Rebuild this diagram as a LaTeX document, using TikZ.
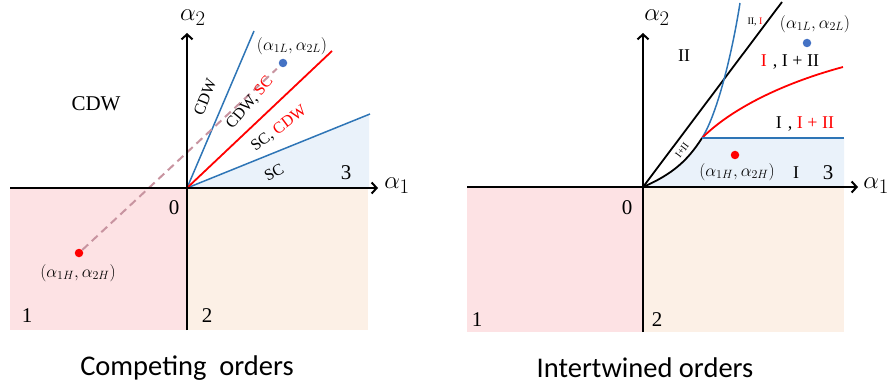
\documentclass[tikz,border=0pt]{standalone}
\usepackage{fontspec}
\setmainfont{Liberation Serif}
\newfontfamily\capfont{Carlito}
\usetikzlibrary{arrows.meta}
\definecolor{pinkf}{RGB}{253,226,228}
\definecolor{peachf}{RGB}{252,240,230}
\definecolor{bluef}{RGB}{234,242,250}
\definecolor{lineblue}{RGB}{46,117,182}
\definecolor{dotblue}{RGB}{68,114,196}
\definecolor{dashc}{RGB}{200,148,160}
\definecolor{myred}{RGB}{255,0,0}
\begin{document}
\begin{tikzpicture}[x=1pt,y=-1pt,
  axis/.style={line width=2pt,-{Straight Barb[length=5pt,width=11pt,line width=2pt]}},
  blueln/.style={lineblue,line width=1.5pt},
  redln/.style={myred,line width=1.8pt},
  blackln/.style={black,line width=1.8pt},
  dashln/.style={dashc,line width=2pt,dash pattern=on 8pt off 5pt},
  dot/.style={circle,inner sep=0pt,minimum size=8.5pt},
  axlab/.style={inner sep=0pt,font=\fontsize{30}{32}\selectfont},
  numlab/.style={inner sep=0pt,font=\fontsize{21}{23}\selectfont},
  ptlab/.style={inner sep=0pt,font=\fontsize{17}{19}\selectfont},
  phlab/.style={inner sep=0pt,font=\fontsize{16}{18}\selectfont},
  romlab/.style={inner sep=0pt,font=\fontsize{18}{20}\selectfont},
  smalllab/.style={inner sep=0pt,font=\fontsize{10}{11}\selectfont},
  caption/.style={inner sep=0pt,font=\capfont\fontsize{28.5}{30}\selectfont}
]
\useasboundingbox (0,0) rectangle (889,385);
% ================= left panel =================
\coordinate (O1) at (187,188);
\coordinate (L1l) at (10,188);
\coordinate (L1r) at (378,188);
\coordinate (L1b) at (187,330);
\coordinate (L1t) at (187,33);
\fill[pinkf] (10,188) rectangle (187,330);
\fill[peachf] (187,188) rectangle (368,330);
\fill[bluef] (O1) -- (369,114) -- (369,188) -- cycle;
\coordinate (B1a) at (254,31);
\coordinate (B1b) at (370,114);
\coordinate (R1a) at (332,51);
\draw[blueln] (O1) -- (B1a);
\draw[blueln] (O1) -- (B1b);
\draw[redln] (O1) -- (R1a);
\node[dot,fill=myred] (H1) at (79,253) {};
\node[dot,fill=dotblue] (Lo1) at (283,63) {};
\draw[dashln,shorten >=4pt] (H1) -- (Lo1);
\draw[axis] (L1l) -- (L1r);
\draw[axis] (L1b) -- (L1t);
\node[axlab] (a2l) at (193,18) {$\alpha_2$};
\node[axlab] (a1l) at (397,186) {$\alpha_1$};
\node[inner sep=0pt,font=\fontsize{21}{23}\selectfont] (cdwbig) at (96,104) {CDW};
\node[phlab,rotate=68] (ph1) at (205,97) {CDW};
\node[phlab,rotate=50] (ph2) at (250,103) {CDW, \textcolor{myred}{SC}};
\node[phlab,rotate=37] (ph3) at (279,129) {SC, \textcolor{myred}{CDW}};
\node[phlab,rotate=28] (ph4) at (274,172) {SC};
\node[ptlab] (lL1) at (292,46) {$(\alpha_{1L},\alpha_{2L})$};
\node[ptlab] (lH1) at (78,273) {$(\alpha_{1H},\alpha_{2H})$};
\node[numlab] (n3l) at (346,173) {3};
\node[numlab] (n0l) at (174,208) {0};
\node[numlab] (n1l) at (27,316) {1};
\node[numlab] (n2l) at (207,316) {2};
\node[caption] (capl) at (187,368) {Competing\ \ orders};
% ================= right panel =================
\coordinate (O2) at (643,187);
\coordinate (K) at (702,138);
\coordinate (L2l) at (467,187);
\coordinate (L2r) at (858,187);
\coordinate (L2b) at (643,332);
\coordinate (L2t) at (643,33);
\fill[pinkf] (467,187) rectangle (643,332);
\fill[peachf] (643,187) rectangle (844,332);
\fill[bluef] (O2) .. controls (673,174) and (688,160) .. (K) -- (844,138) -- (844,187) -- cycle;
\coordinate (BkT) at (782,2);
\coordinate (BcT) at (740,3);
\coordinate (Rend) at (843,67);
\coordinate (Bhend) at (844,138);
\draw[blackln] (O2) -- (BkT);
\draw[blackln] (O2) .. controls (673,174) and (688,160) .. (K);
\draw[blueln] (K) .. controls (716,116) and (731,60) .. (BcT);
\draw[redln] (K) .. controls (730,110) and (780,84) .. (Rend);
\draw[blueln] (K) -- (Bhend);
\draw[axis] (L2l) -- (L2r);
\draw[axis] (L2b) -- (L2t);
\node[axlab] (a2r) at (657,18) {$\alpha_2$};
\node[axlab] (a1r) at (876,186) {$\alpha_1$};
\node[romlab] (rII) at (684,56) {II};
\node[romlab] (r1) at (790,62) {\textcolor{myred}{I}\,\,, I + II};
\node[romlab] (r2) at (805,124) {I\,\,, \textcolor{myred}{I + II}};
\node[smalllab] (r3) at (755,22) {II, \textcolor{myred}{I}};
\node[smalllab,rotate=53] (r4) at (682,150) {I+II};
\node[dot,fill=dotblue] (Lo2) at (807,43) {};
\node[ptlab] (lL2) at (815,24) {$(\alpha_{1L},\alpha_{2L})$};
\node[dot,fill=myred] (H2) at (735,155) {};
\node[ptlab] (lH2) at (737,172) {$(\alpha_{1H},\alpha_{2H})$};
\node[romlab] (rI) at (796,173) {I};
\node[numlab] (n3r) at (828,173) {3};
\node[numlab] (n0r) at (627,208) {0};
\node[numlab] (n1r) at (477,320) {1};
\node[numlab] (n2r) at (657,320) {2};
\node[caption] (capr) at (645,368) {Intertwined orders};
\end{tikzpicture}
\end{document}
